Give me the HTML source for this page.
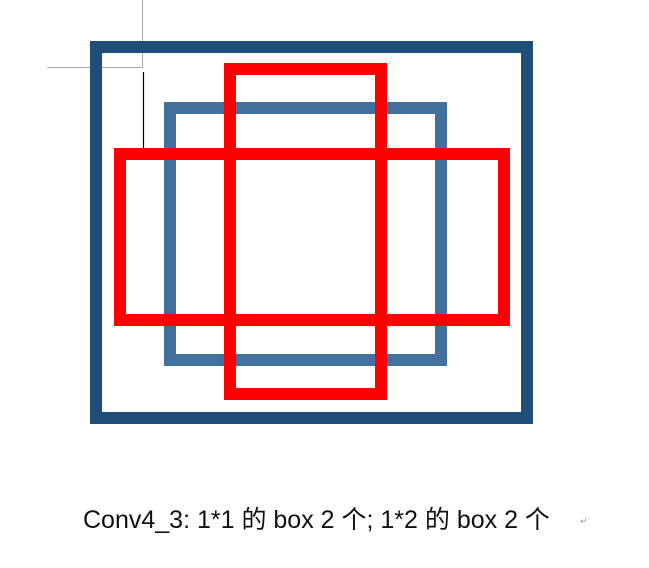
<!DOCTYPE html>
<html><head><meta charset="utf-8"><style>
html,body{margin:0;padding:0;background:#fff;}
body{width:649px;height:568px;position:relative;overflow:hidden;}
#cap{position:absolute;left:83px;top:500px;font-family:"Liberation Sans","Noto Sans CJK SC",sans-serif;font-size:25px;color:#111;white-space:nowrap;letter-spacing:0px;}
</style></head><body>
<svg width="649" height="568" style="position:absolute;left:0;top:0">
<line x1="142.5" y1="0" x2="142.5" y2="67" stroke="#aaa" stroke-width="1"/>
<line x1="47" y1="67.5" x2="143" y2="67.5" stroke="#aaa" stroke-width="1"/>
<rect x="96" y="47" width="431" height="371" fill="none" stroke="#1f4e79" stroke-width="12"/>
<rect x="170" y="108" width="271" height="252" fill="none" stroke="#41719c" stroke-width="12"/>
<rect x="230" y="69" width="151" height="325" fill="none" stroke="#ff0000" stroke-width="12"/>
<rect x="120" y="154" width="384" height="166" fill="none" stroke="#ff0000" stroke-width="12"/>
<line x1="143.5" y1="72" x2="143.5" y2="148" stroke="#000" stroke-width="1.2"/>
<text x="580" y="524" font-family="Liberation Sans,sans-serif" font-size="9" fill="#999">↵</text>
</svg>
<div id="cap">Conv4_3: 1*1 的 box 2 个; 1*2 的 box 2 个</div>
</body></html>
